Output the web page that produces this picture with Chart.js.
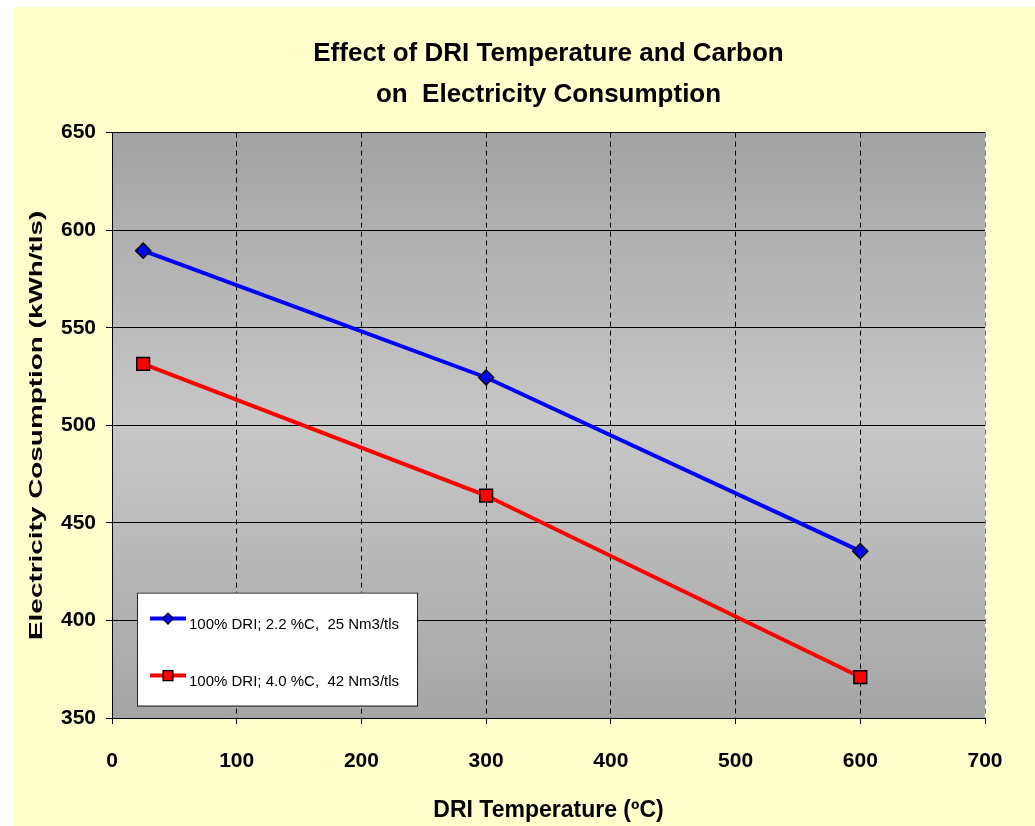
<!DOCTYPE html>
<html>
<head>
<meta charset="utf-8">
<title>Effect of DRI Temperature and Carbon on Electricity Consumption</title>
<script src="https://cdn.jsdelivr.net/npm/chart.js"></script>
<style>
  body { margin: 0; background: #ffffff; }
  #wrap { width: 1035px; height: 826px; }
</style>
</head>
<body>
<div id="wrap"><canvas id="chart" width="1035" height="826"></canvas></div>
<script>
// DRI temperature (ºC)
const temperatures = [25, 300, 600];
// electricity consumption (kWh/tls)
const lowCarbon = [589.5, 524.5, 435.5];
const highCarbon = [531.5, 464, 371];
const seriesLabels = ['100% DRI; 2.2 %C,  25 Nm3/tls', '100% DRI; 4.0 %C,  42 Nm3/tls'];
const titleLines = ['Effect of DRI Temperature and Carbon', 'on  Electricity Consumption'];
const xTicks = [0, 100, 200, 300, 400, 500, 600, 700];
const yTicks = [350, 400, 450, 500, 550, 600, 650];

const fontFamily = '"Liberation Sans", Arial, sans-serif';
const yTitleStretch = 1.55;

// yellow page + grey gradient plot area
const bgPlugin = {
    id: 'bg',
    beforeDraw(chart) {
        const {ctx, chartArea: a} = chart;
        ctx.save();
        ctx.fillStyle = '#FFFFCC';
        ctx.fillRect(14, 7, chart.width - 14, chart.height - 7);
        const g = ctx.createLinearGradient(0, a.top, 0, a.bottom);
        g.addColorStop(0, '#a3a3a3');
        g.addColorStop(0.5, '#c7c7c7');
        g.addColorStop(1, '#a5a5a5');
        ctx.fillStyle = g;
        ctx.fillRect(a.left, a.top, a.right - a.left, a.bottom - a.top);
        ctx.restore();

        // stretch the vertical axis title along its length, like the original
        const sc = chart.scales.y;
        if (sc && !sc._stretched) {
            const orig = sc.drawTitle;
            sc.drawTitle = function () {
                const c = this.ctx;
                const cy = (this.top + this.bottom) / 2;
                c.save();
                c.translate(0, cy);
                c.scale(1, yTitleStretch);
                c.translate(0, -cy);
                orig.call(this);
                c.restore();
            };
            sc._stretched = true;
        }
    }
};

// boxed legend inside the plot area
const legendBox = {
    id: 'legendBox',
    afterDraw(chart) {
        const {ctx, chartArea: a} = chart;
        const x = a.left + 25, y = a.top + 460, w = 280, h = 113;
        ctx.save();
        ctx.fillStyle = '#ffffff';
        ctx.fillRect(x, y, w, h);
        ctx.strokeStyle = '#222';
        ctx.lineWidth = 1;
        ctx.strokeRect(x + 0.5, y + 0.5, w, h);
        chart.data.datasets.forEach((ds, i) => {
            const ry = y + 26 + i * 57;
            ctx.strokeStyle = ds.borderColor;
            ctx.lineWidth = 4;
            ctx.beginPath();
            ctx.moveTo(x + 13, ry);
            ctx.lineTo(x + 49, ry);
            ctx.stroke();
            const cx = x + 31;
            ctx.fillStyle = ds.pointBackgroundColor;
            ctx.strokeStyle = '#000';
            ctx.lineWidth = 1.2;
            ctx.beginPath();
            if (ds.pointStyle === 'rectRot') {
                ctx.moveTo(cx, ry - 5.5);
                ctx.lineTo(cx + 5.5, ry);
                ctx.lineTo(cx, ry + 5.5);
                ctx.lineTo(cx - 5.5, ry);
                ctx.closePath();
            } else {
                ctx.rect(cx - 5, ry - 5, 10, 10);
            }
            ctx.fill();
            ctx.stroke();
            ctx.fillStyle = '#000';
            ctx.font = '15px ' + fontFamily;
            ctx.textAlign = 'left';
            ctx.textBaseline = 'alphabetic';
            ctx.fillText(ds.label, x + 52, ry + 10);
        });
        ctx.restore();
    }
};

new Chart(document.getElementById('chart'), {
    type: 'line',
    data: {
        datasets: [{
            label: seriesLabels[0],
            data: temperatures.map((t, i) => ({x: t, y: lowCarbon[i]})),
            borderColor: '#0000FF',
            backgroundColor: '#0000FF',
            pointBackgroundColor: '#0000FF',
            pointBorderColor: '#000',
            pointBorderWidth: 1.5,
            pointStyle: 'rectRot',
            pointRadius: 7.5,
            borderWidth: 4,
            tension: 0
        }, {
            label: seriesLabels[1],
            data: temperatures.map((t, i) => ({x: t, y: highCarbon[i]})),
            borderColor: '#FF0000',
            backgroundColor: '#FF0000',
            pointBackgroundColor: '#FF0000',
            pointBorderColor: '#000',
            pointBorderWidth: 1.5,
            pointStyle: 'rect',
            pointRadius: 9,
            borderWidth: 4,
            tension: 0
        }]
    },
    options: {
        responsive: false,
        animation: false,
        devicePixelRatio: 1,
        events: [],
        layout: { padding: { left: 0, right: 50, top: 0, bottom: 0 } },
        plugins: {
            legend: { display: false },
            tooltip: { enabled: false },
            title: {
                display: true,
                text: titleLines,
                fullSize: false,
                color: '#000',
                font: { family: fontFamily, size: 26, weight: 'bold', lineHeight: 1.55 },
                padding: { top: 34, bottom: 18 }
            }
        },
        scales: {
            x: {
                type: 'linear',
                position: 'bottom',
                min: xTicks[0],
                max: xTicks[xTicks.length - 1],
                afterFit(s) { s.height = 108; },
                ticks: {
                    stepSize: xTicks[1] - xTicks[0],
                    color: '#000',
                    padding: 25,
                    maxRotation: 0,
                    font: { family: fontFamily, size: 21, weight: 'bold' }
                },
                grid: {
                    color: c => (c.tick && c.tick.value === xTicks[xTicks.length - 1]) ? '#7a7a7a' : '#000',
                    lineWidth: 1,
                    tickLength: 6,
                    tickColor: '#000',
                    tickBorderDash: []
                },
                border: { color: '#000', width: 1, dash: [5, 4] },
                title: {
                    display: true,
                    text: 'DRI Temperature (ºC)',
                    color: '#000',
                    font: { family: fontFamily, size: 23, weight: 'bold' },
                    padding: { top: 0, bottom: 2 }
                }
            },
            y: {
                min: yTicks[0],
                max: yTicks[yTicks.length - 1],
                afterFit(s) { s.width = 112; },
                ticks: {
                    stepSize: yTicks[1] - yTicks[0],
                    color: '#000',
                    padding: 10,
                    font: { family: fontFamily, size: 21, weight: 'bold' }
                },
                grid: { color: '#000', lineWidth: 1, tickLength: 6, tickColor: '#000' },
                border: { color: '#000', width: 1 },
                title: {
                    display: true,
                    text: 'Electricity Cosumption (kWh/tls)',
                    color: '#000',
                    font: { family: fontFamily, size: 18, weight: 'bold' },
                    padding: { top: 26, bottom: 0 }
                }
            }
        }
    },
    plugins: [bgPlugin, legendBox]
});
</script>
</body>
</html>
